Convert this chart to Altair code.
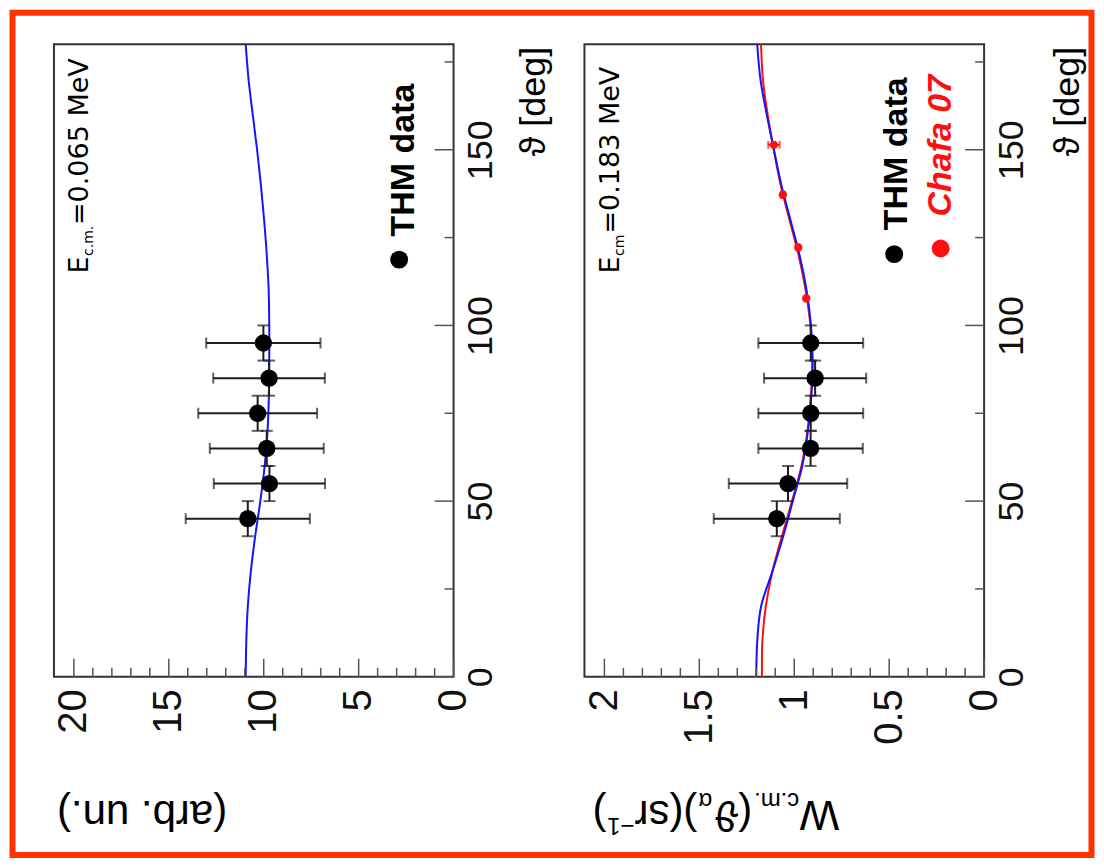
import altair as alt
import pandas as pd

# ---------------- data ----------------
theta_thm = [45, 55, 65, 75, 85, 95]
theta_thm_err = [5, 5, 5, 5, 5, 5]
w065_thm = [10.84, 9.70, 9.84, 10.32, 9.72, 10.02]
w065_thm_err = [3.27, 2.93, 3.00, 3.13, 2.94, 3.01]
w183_thm = [1.092, 1.033, 0.914, 0.913, 0.890, 0.913]
w183_thm_err = [0.332, 0.312, 0.275, 0.276, 0.269, 0.276]

theta_chafa = [107.7, 122.2, 137.2, 151.4]
w183_chafa = [0.937, 0.979, 1.060, 1.107]
w183_chafa_err = [0.008, 0.008, 0.010, 0.030]

theta_curve = [0, 10, 20, 30, 40, 50, 60, 70, 80, 90, 100, 110, 120, 130, 140, 150, 160, 170, 180]
fit065 = [10.95, 10.92, 10.84, 10.68, 10.45, 10.18, 9.95, 9.80, 9.73, 9.71, 9.71, 9.74, 9.84, 9.98,
          10.15, 10.35, 10.58, 10.80, 10.95]
fit183_blue = [1.200, 1.195, 1.175, 1.115, 1.058, 1.008, 0.958, 0.928, 0.910, 0.903, 0.912, 0.935,
               0.972, 1.020, 1.068, 1.107, 1.145, 1.178, 1.195]
fit183_red = [1.170, 1.168, 1.150, 1.115, 1.065, 1.012, 0.962, 0.930, 0.912, 0.905, 0.915, 0.940,
              0.977, 1.025, 1.072, 1.108, 1.140, 1.165, 1.175]

theta_major = [0, 50, 100, 150]
theta_minor = [25, 75, 125, 175]
w065_major = [0, 5, 10, 15, 20]
w065_minor = [1, 2, 3, 4, 6, 7, 8, 9, 11, 12, 13, 14, 16, 17, 18, 19]
w183_major = [0, 0.5, 1, 1.5, 2]
w183_minor = [0.1, 0.2, 0.3, 0.4, 0.6, 0.7, 0.8, 0.9, 1.1, 1.2, 1.3, 1.4, 1.6, 1.7, 1.8, 1.9]

# ---------------- style ----------------
W, H = 400, 633
ONE = pd.DataFrame({"k": [0]})
ERR = "#1e1e1e"
TICK = "#555555"
BLUE = "#1414ff"
RED = "#ff1010"

theta_scale = alt.Scale(domain=[0, 180], nice=False, zero=False)
theta_axis = alt.Axis(orient="right", values=theta_major, format="d", labelAngle=270,
                      labelAlign="center", labelBaseline="top", labelPadding=10,
                      labelFontSize=36, labelFont="Liberation Sans", labelColor="#111111",
                      ticks=False, domain=False, grid=False, labelFlush=False,
                      labelOverlap=False, labelBound=False, title=None)


def Y(f):
    return alt.Y(f + ":Q", scale=theta_scale, axis=theta_axis)


def text(s, x, y, size, angle=270, align="left", baseline="alphabetic", color="black",
         weight="normal", style="normal", font="Liberation Sans", dx=0, dy=0):
    return alt.Chart(ONE).mark_text(text=s, angle=angle, align=align, baseline=baseline,
                                    fontSize=size, font=font, fontWeight=weight,
                                    fontStyle=style, color=color, dx=dx, dy=dy).encode(
        x=alt.value(x), y=alt.value(y))


def dot(x, y, size, color):
    return alt.Chart(ONE).mark_circle(size=size, color=color, opacity=1).encode(
        x=alt.value(x), y=alt.value(y))


def panel(xdom, xmajor, xminor, xfmt, curves, thm_w, thm_err, extras):
    xs = alt.Scale(domain=xdom, reverse=True, nice=False, zero=False)
    xa = alt.Axis(orient="bottom", values=xmajor, format=xfmt, labelAngle=270,
                  labelAlign="right", labelBaseline="middle", labelPadding=12,
                  labelFontSize=40, labelFont="Liberation Sans", labelColor="#111111",
                  ticks=False, domain=False, grid=False, labelFlush=False,
                  labelOverlap=False, labelBound=False, title=None)

    def X(f):
        return alt.X(f + ":Q", scale=xs, axis=xa)

    layers = []
    for vals, col in curves:
        dfc = pd.DataFrame({"theta": theta_curve, "w": vals})
        layers.append(alt.Chart(dfc).mark_line(color=col, strokeWidth=2,
                                               interpolate="catmull-rom").encode(
            x=X("w"), y=Y("theta"), order="theta:Q"))

    d = pd.DataFrame({"theta": theta_thm, "terr": theta_thm_err, "w": thm_w, "werr": thm_err})
    d["lo"] = d["w"] - d["werr"]
    d["hi"] = d["w"] + d["werr"]
    d["tlo"] = d["theta"] - d["terr"]
    d["thi"] = d["theta"] + d["terr"]
    base = alt.Chart(d)
    layers += [
        base.mark_rule(color=ERR, strokeWidth=2).encode(x=X("lo"), x2="hi:Q", y=Y("theta")),
        base.mark_rule(color=ERR, strokeWidth=2).encode(x=X("w"), y=Y("tlo"), y2="thi:Q"),
        base.mark_tick(orient="vertical", size=11, thickness=2, color=ERR).encode(x=X("lo"), y=Y("theta")),
        base.mark_tick(orient="vertical", size=11, thickness=2, color=ERR).encode(x=X("hi"), y=Y("theta")),
        base.mark_tick(orient="horizontal", size=12, thickness=2, color=ERR).encode(x=X("w"), y=Y("tlo")),
        base.mark_tick(orient="horizontal", size=12, thickness=2, color=ERR).encode(x=X("w"), y=Y("thi")),
        base.mark_circle(size=300, color="black", opacity=1).encode(x=X("w"), y=Y("theta")),
    ]
    layers += extras(X)

    # axis ticks (pointing into the frame)
    layers += [
        alt.Chart(pd.DataFrame({"v": xmajor})).mark_rule(color=TICK, strokeWidth=1.5).encode(
            x=X("v"), y=alt.value(H), y2=alt.value(H - 18)),
        alt.Chart(pd.DataFrame({"v": xminor})).mark_rule(color=TICK, strokeWidth=1.5).encode(
            x=X("v"), y=alt.value(H), y2=alt.value(H - 9)),
        alt.Chart(pd.DataFrame({"t": theta_major})).mark_rule(color=TICK, strokeWidth=1.5).encode(
            y=Y("t"), x=alt.value(W), x2=alt.value(W - 19)),
        alt.Chart(pd.DataFrame({"t": theta_minor})).mark_rule(color=TICK, strokeWidth=1.5).encode(
            y=Y("t"), x=alt.value(W), x2=alt.value(W - 9)),
    ]
    return layers


def no_extras(X):
    return []


def chafa_layers(X):
    d = pd.DataFrame({"theta": theta_chafa, "w": w183_chafa, "werr": w183_chafa_err})
    d["lo"] = d["w"] - d["werr"]
    d["hi"] = d["w"] + d["werr"]
    b = alt.Chart(d)
    return [
        b.mark_rule(color=RED, strokeWidth=2).encode(x=X("lo"), x2="hi:Q", y=Y("theta")),
        b.mark_tick(orient="vertical", size=8, thickness=2, color=RED).encode(x=X("lo"), y=Y("theta")),
        b.mark_tick(orient="vertical", size=8, thickness=2, color=RED).encode(x=X("hi"), y=Y("theta")),
        b.mark_circle(size=70, color=RED, opacity=1).encode(x=X("w"), y=Y("theta")),
    ]


# ---------------- left panel (0.065 MeV) ----------------
left_layers = panel([0, 21.05], w065_major, w065_minor, "d", [(fit065, BLUE)],
                    w065_thm, w065_thm_err, no_extras)
left_layers += [
    text("E", 34.5, 229.3, 27, font="DejaVu Sans"),
    text("c.m.", 34.5, 229.3, 14, font="DejaVu Sans", dx=17.5, dy=5),
    text("=0.065 MeV", 34.5, 229.3, 27, font="DejaVu Sans", dx=48.5),
    dot(345.5, 215.5, 320, "black"),
    text("THM data", 350.5, 192.3, 34, baseline="middle", weight="bold"),
    text("\u03d1 [deg]", 480.5, 2.3, 36, align="right", baseline="middle"),
    text("(arb. un.)", 3, 757.3, 42, angle=180, align="right"),
    # red page frame
    alt.Chart(ONE).mark_rect(fillOpacity=0, stroke="#ff3300", strokeWidth=6).encode(
        x=alt.value(-41.5), x2=alt.value(1038.5), y=alt.value(-31.7), y2=alt.value(811.3)),
]
left = alt.layer(*left_layers).properties(width=W, height=H)

# ---------------- right panel (0.183 MeV) ----------------
right_layers = panel([0, 2.105], w183_major, w183_minor, "~g",
                     [(fit183_red, RED), (fit183_blue, BLUE)],
                     w183_thm, w183_thm_err, chafa_layers)
right_layers += [
    text("E", 35, 229.3, 27, font="DejaVu Sans"),
    text("cm", 35, 229.3, 14, font="DejaVu Sans", dx=17.5, dy=5),
    text("=0.183 MeV", 35, 229.3, 27, font="DejaVu Sans", dx=40),
    dot(310, 210, 320, "black"),
    text("THM data", 313, 186, 34, baseline="middle", weight="bold"),
    dot(356.5, 204.3, 320, RED),
    text("Chafa 07", 357, 172.3, 34, baseline="middle", weight="bold", style="italic", color=RED),
    text("\u03d1 [deg]", 484, 2.3, 36, align="right", baseline="middle"),
    # W_c.m.(theta_alpha)(sr^-1), upside down
    text("W", 255, 757.3, 42, angle=180),
    text("c.m.", 255, 757.3, 24, angle=180, dx=40, dy=8),
    text("(\u03d1", 255, 757.3, 42, angle=180, dx=87),
    text("\u03b1", 255, 757.3, 24, angle=180, dx=127, dy=8),
    text(")(sr", 255, 757.3, 42, angle=180, dx=142),
    text("\u22121", 255, 757.3, 24, angle=180, dx=205, dy=-17),
    text(")", 255, 757.3, 42, angle=180, dx=233),
]
right = alt.layer(*right_layers).properties(width=W, height=H)

chart = alt.hconcat(left, right, spacing=131, bounds="flush").properties(
    padding=0
).configure_view(stroke="#333333", strokeWidth=2)

chart.save("out.html", embed_options={"renderer": "svg", "actions": False})
